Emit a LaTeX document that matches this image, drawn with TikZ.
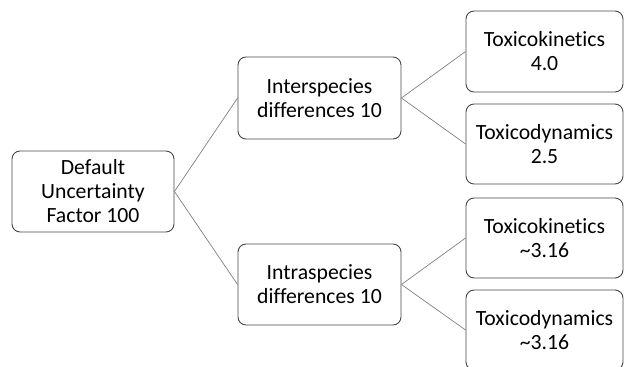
\documentclass[tikz,border=0pt]{standalone}
\usepackage{fontspec}
\setmainfont{Carlito}[Ligatures=NoCommon]
\begin{document}
\begin{tikzpicture}[x=1pt, y=-1pt,
    factor/.style={draw=black!72, line width=0.9pt, rounded corners=8pt, align=center,
        inner sep=0pt, font=\fontsize{21.7}{24}\selectfont},
    link/.style={black!50, line width=0.7pt}]
    \useasboundingbox (0,0) rectangle (625,367);

    % Overall default factor
    \node[factor, minimum width=162pt, minimum height=81pt] (root) at (93,191.5) {Default\\Uncertainty\\Factor 100};

    % Species split
    \node[factor, minimum width=163pt, minimum height=82pt] (inter) at (319.5,98) {Interspecies\\differences 10};
    \node[factor, minimum width=163pt, minimum height=81pt] (intra) at (319.5,284.5) {Intraspecies\\differences 10};

    % Kinetics / dynamics subfactors
    \node[factor, minimum width=157pt, minimum height=81pt] (interTK) at (544.5,51.5) {Toxicokinetics\\4.0};
    \node[factor, minimum width=157pt, minimum height=80pt] (interTD) at (544.5,144) {Toxicodynamics\\2.5};
    \node[factor, minimum width=157pt, minimum height=80pt] (intraTK) at (544.5,238) {Toxicokinetics\\\textasciitilde3.16};
    \node[factor, minimum width=157pt, minimum height=80pt] (intraTD) at (544.5,330) {Toxicodynamics\\\textasciitilde3.16};

    % Connectors
    \foreach \a/\b in {root/inter, root/intra, inter/interTK, inter/interTD, intra/intraTK, intra/intraTD} {
        \draw[link] (\a.east) -- (\b.west);
    }
\end{tikzpicture}
\end{document}
